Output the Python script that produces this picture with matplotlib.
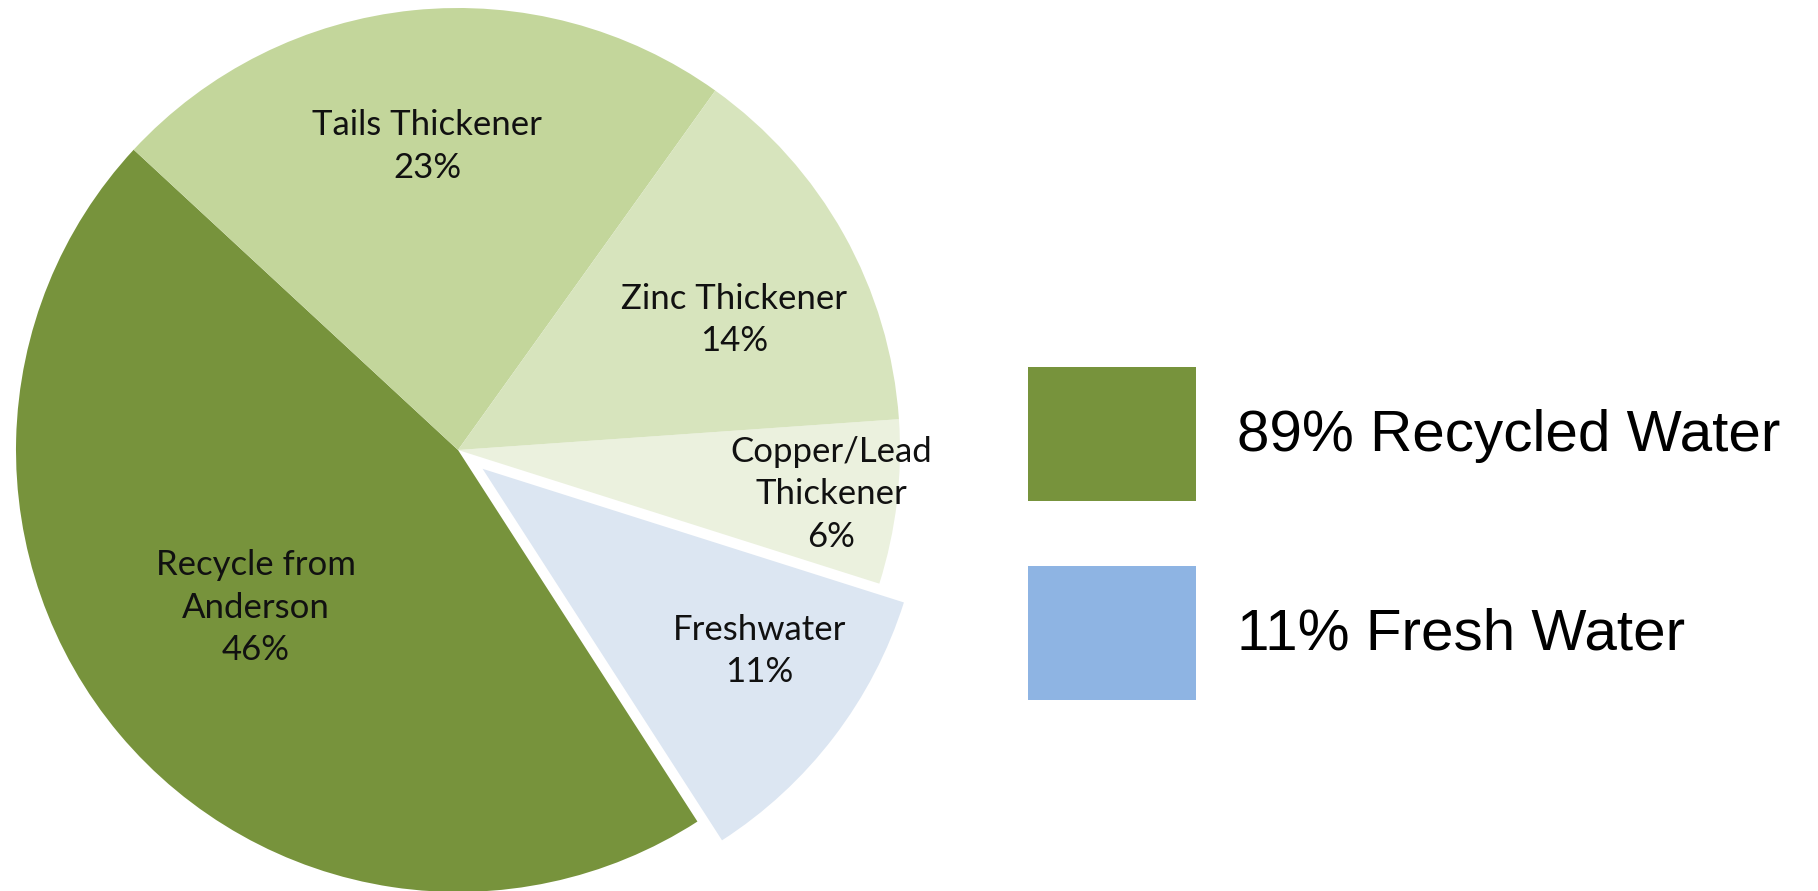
import matplotlib.pyplot as plt
import numpy as np
from matplotlib.patches import Patch

# pie data, clockwise from the zinc/copper boundary
labels = ["Copper/Lead\nThickener", "Freshwater", "Recycle from\nAnderson",
          "Tails Thickener", "Zinc Thickener"]
shares = [6, 11, 46, 23, 14]
colors = ["#ebf1de", "#dce6f2", "#77933c", "#c3d69b", "#d7e4bd"]
explode = [0, 0.07, 0, 0, 0]
label_dist = [0.85, 0.75, 0.58, 0.69, 0.69]
label_turn = [0, 4, -2, 0, -4]  # degrees off the wedge middle

legend_labels = ["89% Recycled Water", "11% Fresh Water"]
legend_colors = ["#77933c", "#8eb4e3"]

W, H = 1818, 891
fig = plt.figure(figsize=(W / 100, H / 100), dpi=100)
ax = fig.add_axes([0, 0, 1, 1])

R = 442
cx, cy = 458, H - 450
# explode offsets are in data units, so scale them by the radius
wedges, _ = ax.pie(shares, colors=colors, startangle=4, counterclock=False,
                   explode=[e * R for e in explode], radius=R, center=(cx, cy),
                   wedgeprops=dict(linewidth=0))
ax.set_xlim(0, W)
ax.set_ylim(0, H)
ax.set_aspect("equal")
ax.axis("off")

for w, lab, share, d, turn in zip(wedges, labels, shares, label_dist, label_turn):
    ang = np.deg2rad((w.theta1 + w.theta2) / 2 + turn)
    x = w.center[0] + d * w.r * np.cos(ang)
    y = w.center[1] + d * w.r * np.sin(ang)
    ax.text(x, y, f"{lab}\n{share}%", ha="center", va="center",
            fontsize=25, family="Lato", linespacing=1.4, color="#111111")

fs = 42
fpx = fs * 100 / 72
handles = [Patch(facecolor=c, edgecolor="none") for c in legend_colors]
ax.legend(handles, legend_labels, loc="upper left",
          bbox_to_anchor=(1028 / W, 1 - 367 / H), bbox_transform=fig.transFigure,
          frameon=False, borderpad=0, borderaxespad=0,
          handlelength=168 / fpx, handleheight=1.38 * 134 / fpx,
          handletextpad=0.7, labelspacing=1.1,
          prop=dict(family="Liberation Sans", size=fs))

fig.savefig("out.png", dpi=100)
